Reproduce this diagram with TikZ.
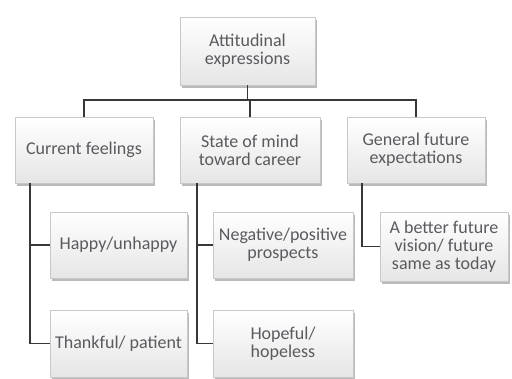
\documentclass[tikz,border=0pt]{standalone}
\usepackage{fontspec}
\setmainfont{Carlito}
\usetikzlibrary{shadows}
\definecolor{txt}{RGB}{90,90,95}
\definecolor{edge}{RGB}{200,200,200}
\definecolor{conn}{RGB}{55,55,55}
\tikzset{
  box/.style={draw=edge, line width=0.5pt, top color=white, bottom color=black!10,
    drop shadow={shadow xshift=2pt, shadow yshift=-3pt, opacity=0.45, fill=black!60},
    text=txt, align=center, inner sep=1pt,
    font=\fontsize{18}{18}\selectfont},
  link/.style={draw=conn, line width=1.4pt}
}
\begin{document}
\begin{tikzpicture}[x=1pt,y=-1pt]
\useasboundingbox (0,0) rectangle (512,379);
\node[box, minimum width=135pt, minimum height=68pt] (top) at (247.5,51) {Attitudinal\\expressions};
\node[box, minimum width=138pt, minimum height=66pt] (cur) at (84,150) {Current feelings};
\node[box, minimum width=140pt, minimum height=66pt] (som) at (250,150) {State of mind\\toward career};
\node[box, minimum width=138pt, minimum height=66pt] (gen) at (416,150) {General future\\expectations};
\node[box, minimum width=137pt, minimum height=66pt] (hap) at (118.5,245) {Happy/unhappy};
\node[box, minimum width=137pt, minimum height=67pt] (tha) at (118.5,343.5) {Thankful/ patient};
\node[box, minimum width=140pt, minimum height=66pt] (neg) at (283,245) {Negative/positive\\prospects};
\node[box, minimum width=140pt, minimum height=67pt] (hop) at (283,343.5) {Hopeful/\\hopeless};
\node[box, minimum width=128pt, minimum height=69pt] (bet) at (444,246.5) {A better future\\vision/ future\\same as today};
% connectors
\coordinate (bus) at (247.5,100);
\draw[link] (top.south) -- (bus);
\draw[link] (cur.north) |- (bus) -| (gen.north);
\draw[link] (som.north) -- (som.north |- bus);
\coordinate (c1) at (30,183);
\coordinate (c2) at (197,183);
\coordinate (c3) at (362,183);
\draw[link] (c1) |- (tha.west);
\draw[link] (c1 |- hap.west) -- (hap.west);
\draw[link] (c2) |- (hop.west);
\draw[link] (c2 |- neg.west) -- (neg.west);
\draw[link] (c3) |- (bet.west);
\end{tikzpicture}
\end{document}
